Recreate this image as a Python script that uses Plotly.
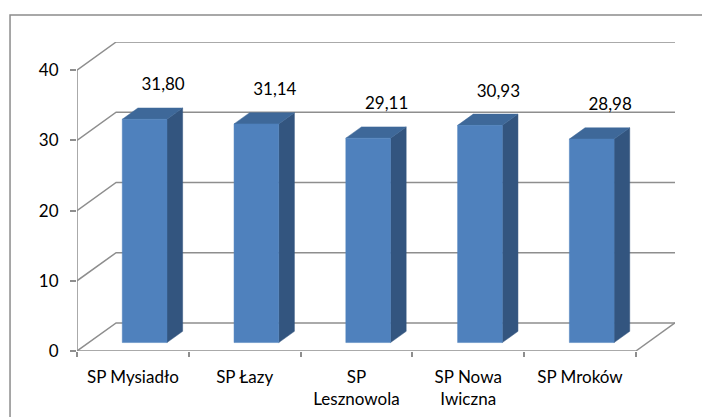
import plotly.graph_objects as go

# ---- data ----
categories = ["SP Mysiadło", "SP Łazy", "SP Lesznowola", "SP Nowa Iwiczna", "SP Mroków"]
tick_labels = ["SP Mysiadło", "SP Łazy", "SP<br>Lesznowola", "SP Nowa<br>Iwiczna", "SP Mroków"]
values = [31.80, 31.14, 29.11, 30.93, 28.98]
y_ticks = [0, 10, 20, 30, 40]

# ---- 3D-look (oblique projection) parameters, in axis units ----
DX, DY = 0.35, 4.0          # full depth offset of the back wall
F0, F1 = 0.30, 0.70         # bar front / back depth fraction
HW = 0.20                   # half bar width (category units)
X0, X1 = -0.5, len(categories) - 0.5
YMAX = y_ticks[-1]

GRID = "#8E8E8E"
FRONT = "#4F81BD"
SIDE = "#33557F"
TOP = "#3E6899"
FONT = "Lato"

fig = go.Figure()

# walls / gridlines
gx, gy = [], []
for v in y_ticks:
    # side wall diagonal + back wall line
    gx += [X0, X0 + DX, X1 + DX, None]
    gy += [v, v + DY, v + DY, None]
# floor right edge and front edge, front axis line
gx += [X1, X1 + DX, None, X0, X1, None, X0, X0, None]
gy += [0, DY, None, 0, 0, None, 0, YMAX, None]
fig.add_trace(go.Scatter(x=gx, y=gy, mode="lines",
                         line=dict(color=GRID, width=1.5),
                         hoverinfo="skip", showlegend=False))

# bars as projected boxes
fx, fy, sx, sy, tx, ty = [], [], [], [], [], []
for i, v in enumerate(values):
    xl, xr = i - HW, i + HW
    ax, ay = F0 * DX, F0 * DY
    bx, by = F1 * DX, F1 * DY
    # front face
    fx += [xl + ax, xr + ax, xr + ax, xl + ax, xl + ax, None]
    fy += [ay, ay, v + ay, v + ay, ay, None]
    # right side face
    sx += [xr + ax, xr + bx, xr + bx, xr + ax, xr + ax, None]
    sy += [ay, by, v + by, v + ay, ay, None]
    # top face
    tx += [xl + ax, xr + ax, xr + bx, xl + bx, xl + ax, None]
    ty += [v + ay, v + ay, v + by, v + by, v + ay, None]

for px, py, col in [(sx, sy, SIDE), (tx, ty, TOP), (fx, fy, FRONT)]:
    fig.add_trace(go.Scatter(x=px, y=py, mode="lines", fill="toself",
                             fillcolor=col, line=dict(color=col, width=0.5),
                             hoverinfo="skip", showlegend=False))

# value labels
fig.add_trace(go.Scatter(
    x=[i + 0.27 for i in range(len(values))],
    y=[v + 5.9 for v in values],
    mode="text",
    text=[f"{v:.2f}".replace(".", ",") for v in values],
    textposition="middle center",
    textfont=dict(family=FONT, size=17, color="#000000"),
    hoverinfo="skip", showlegend=False))

fig.update_layout(
    width=702, height=417,
    margin=dict(l=77, r=27, t=42, b=66, autoexpand=False),
    paper_bgcolor="white", plot_bgcolor="white",
    font=dict(family=FONT, size=17, color="#000000"),
    xaxis=dict(range=[X0, X1 + DX], showgrid=False, zeroline=False,
               showline=False, tickmode="array", automargin=False,
               tickvals=list(range(len(categories))), ticktext=tick_labels,
               ticks="", ticklabelstandoff=14,
               minor=dict(ticks="outside", tick0=X0, dtick=1, ticklen=5,
                          tickcolor=GRID, tickwidth=1.5, showgrid=False),
               fixedrange=True),
    yaxis=dict(range=[0, YMAX + DY], showgrid=False, zeroline=False,
               showline=False, tickmode="array", tickvals=y_ticks,
               automargin=False,
               ticks="outside", ticklen=6, tickcolor=GRID, tickwidth=1.5,
               ticklabelstandoff=8, fixedrange=True),
    shapes=[dict(type="rect", xref="paper", yref="paper",
                 x0=-0.112, x1=1.3, y0=-0.4, y1=1.087,
                 line=dict(color="#8C8C8C", width=1.5), layer="below")],
)

fig.write_html("out.html", config={"displayModeBar": False},
               post_script="document.body.style.margin='0';"
                           "document.body.style.overflow='hidden';")
